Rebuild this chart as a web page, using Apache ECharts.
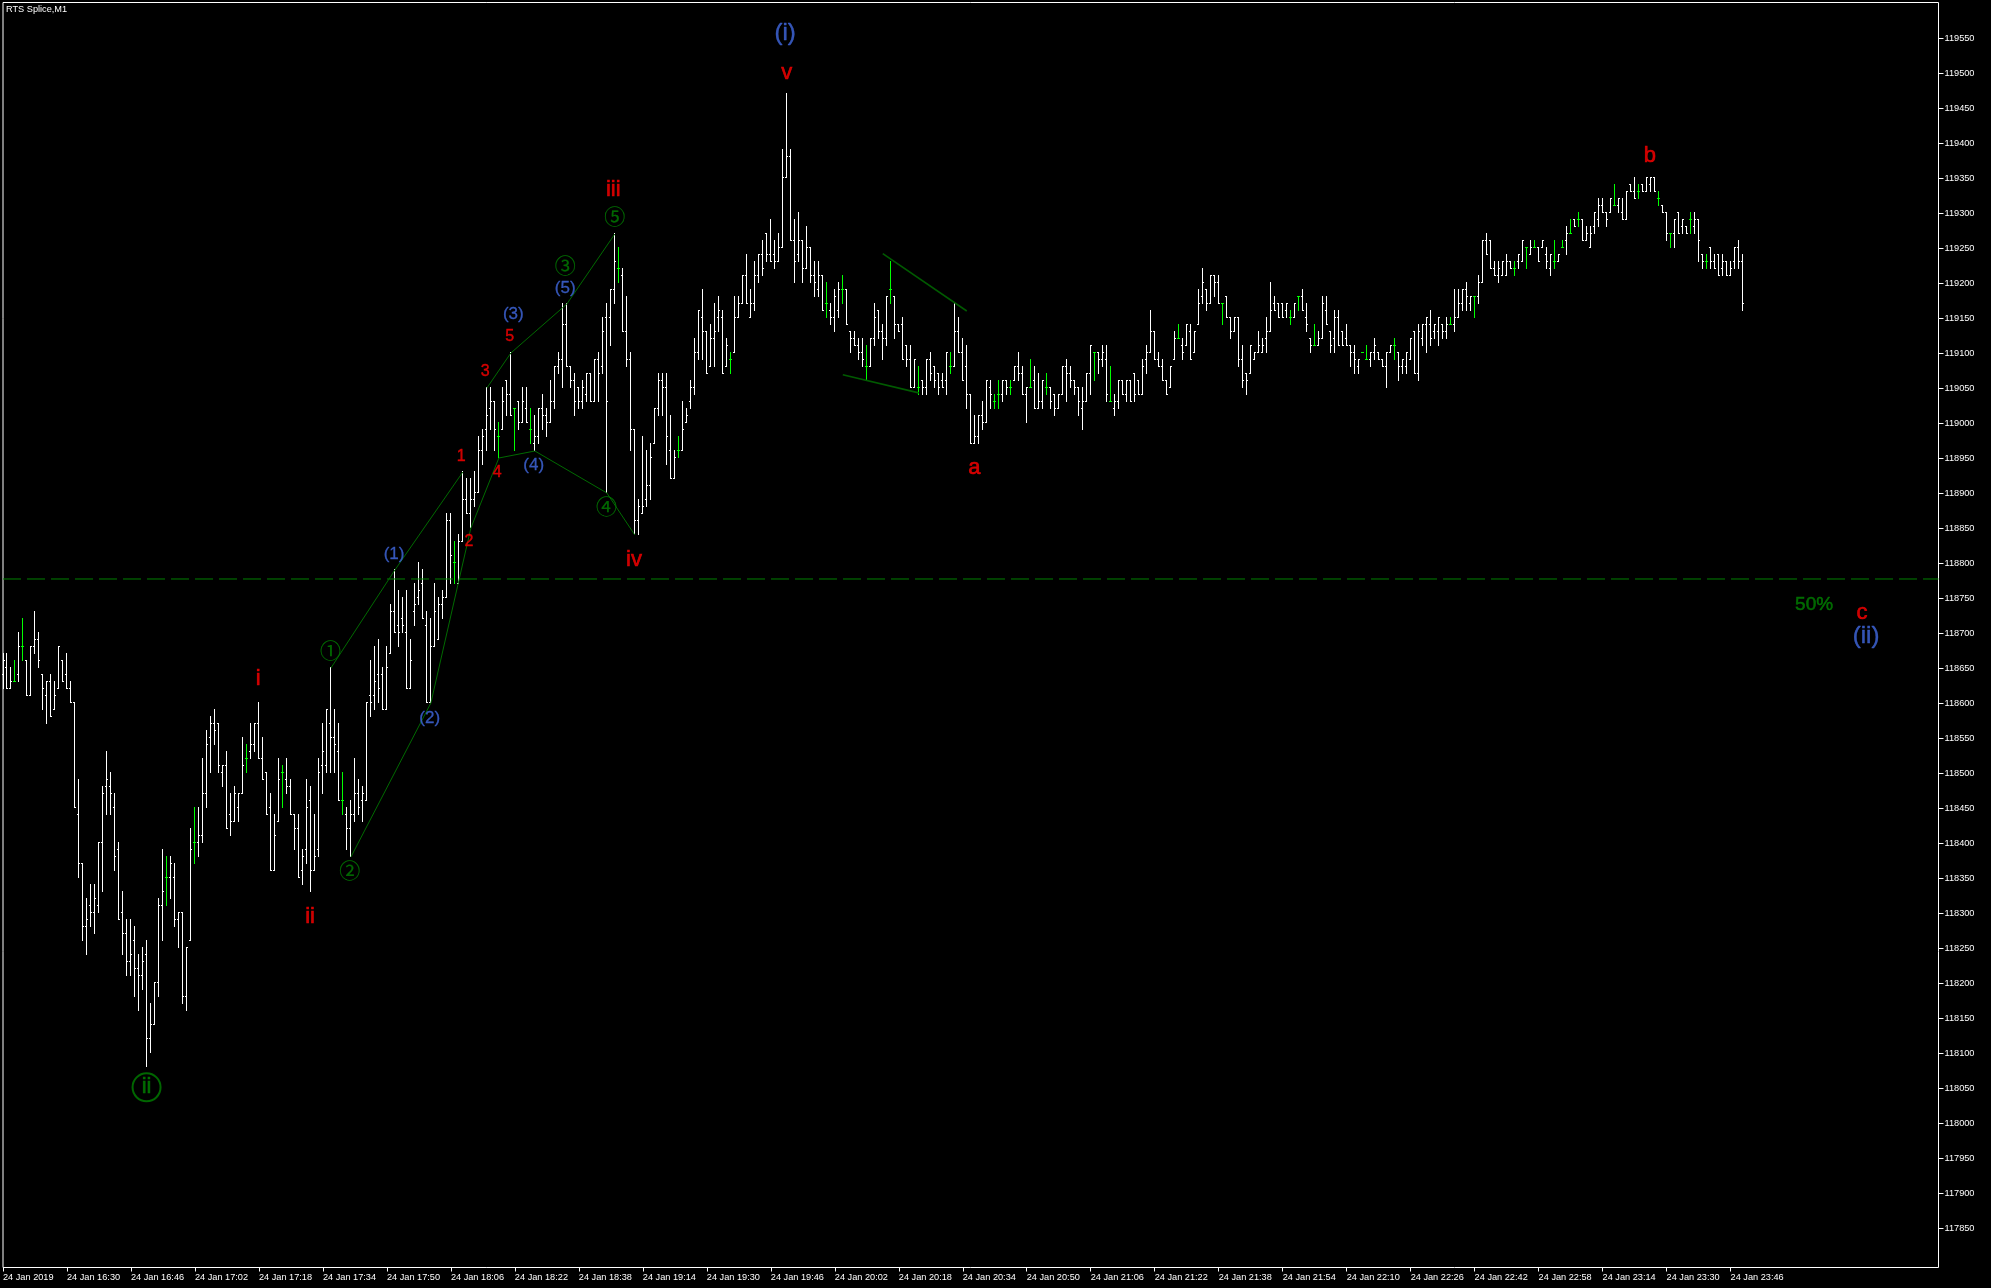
<!DOCTYPE html>
<html><head><meta charset="utf-8"><title>RTS Splice,M1</title>
<style>html,body{margin:0;padding:0;background:#000}#c{width:1991px;height:1288px}</style>
<script src="https://cdn.jsdelivr.net/npm/echarts@6/dist/echarts.min.js"></script></head>
<body><div id="c"></div>
<script>
const chartTitle = "RTS Splice,M1";
const timeLabels = ["24 Jan 2019","24 Jan 16:30","24 Jan 16:46","24 Jan 17:02","24 Jan 17:18","24 Jan 17:34","24 Jan 17:50","24 Jan 18:06","24 Jan 18:22","24 Jan 18:38","24 Jan 19:14","24 Jan 19:30","24 Jan 19:46","24 Jan 20:02","24 Jan 20:18","24 Jan 20:34","24 Jan 20:50","24 Jan 21:06","24 Jan 21:22","24 Jan 21:38","24 Jan 21:54","24 Jan 22:10","24 Jan 22:26","24 Jan 22:42","24 Jan 22:58","24 Jan 23:14","24 Jan 23:30","24 Jan 23:46"];
const timeTicks = [0,16,32,48,64,80,96,112,128,144,160,176,192,208,224,240,256,272,288,304,320,336,352,368,384,400,416,432];
const priceTicks = [119550,119500,119450,119400,119350,119300,119250,119200,119150,119100,119050,119000,118950,118900,118850,118800,118750,118700,118650,118600,118550,118500,118450,118400,118350,118300,118250,118200,118150,118100,118050,118000,117950,117900,117850];

const opens = [118640,118650,118620,118630,118640,118680,118660,118610,118680,118690,118640,118610,118630,118590,118620,118660,118640,118620,118600,118440,
118370,118280,118310,118300,118310,118400,118480,118480,118450,118390,118300,118270,118230,118260,118220,118210,118240,118120,118140,118200,
118310,118350,118350,118350,118290,118300,118180,118260,118400,118400,118410,118470,118550,118570,118570,118500,118510,118440,118430,118450,
118470,118520,118530,118540,118570,118520,118500,118450,118360,118430,118500,118490,118480,118440,118420,118360,118390,118460,118360,118390,
118510,118510,118570,118550,118530,118460,118440,118420,118440,118470,118460,118460,118610,118610,118640,118640,118590,118670,118730,118710,
118720,118700,118620,118730,118750,118770,118710,118600,118680,118690,118740,118750,118860,118800,118770,118830,118890,118870,118890,118900,
118960,118990,119020,119030,118980,118990,119060,119040,119020,119030,119000,119020,118990,118970,118980,119020,119010,119000,119030,119080,
119090,119140,119080,119060,119050,119030,119040,119070,119030,119090,119080,119150,119150,119190,119220,119210,119130,119090,118990,118860,
118870,118890,118910,118970,119020,119060,119050,118960,118920,118960,118960,119000,119030,119050,119100,119150,119130,119080,119120,119150,
119150,119080,119090,119100,119150,119170,119210,119150,119170,119210,119240,119270,119240,119240,119230,119250,119350,119380,119260,119240,
119260,119220,119250,119210,119190,119210,119170,119160,119150,119160,119190,119190,119130,119120,119110,119100,119080,119080,119120,119160,
119130,119120,119190,119180,119140,119140,119110,119090,119050,119050,119060,119050,119090,119080,119070,119060,119060,119080,119080,119130,
119100,119080,119040,118970,118980,119010,119000,119050,119030,119040,119040,119060,119050,119060,119080,119070,119040,119050,119060,119020,
119030,119050,119050,119040,119020,119040,119080,119070,119060,119050,119020,119030,119070,119100,119100,119090,119090,119030,119020,119030,
119060,119040,119060,119070,119060,119040,119090,119100,119130,119090,119080,119060,119050,119090,119120,119110,119110,119130,119100,119140,
119180,119190,119170,119210,119200,119170,119180,119150,119130,119150,119090,119070,119070,119090,119100,119100,119120,119130,119170,119170,
119170,119160,119150,119150,119180,119180,119150,119120,119110,119110,119120,119160,119130,119120,119150,119130,119120,119110,119100,119080,
119100,119090,119090,119100,119100,119090,119080,119100,119110,119100,119080,119080,119090,119130,119070,119120,119140,119140,119130,119130,
119140,119130,119140,119140,119150,119170,119190,119170,119180,119180,119200,119260,119260,119220,119210,119210,119210,119230,119220,119230,
119230,119250,119240,119250,119250,119250,119240,119220,119230,119230,119250,119260,119270,119290,119290,119290,119260,119250,119280,119290,
119310,119300,119300,119310,119310,119300,119290,119340,119330,119330,119340,119330,119340,119350,119320,119310,119300,119270,119270,119300,
119280,119280,119290,119280,119290,119240,119230,119250,119230,119240,119220,119230,119210,119230,119250,119230];
const highs = [118670,118670,118650,118660,118700,118720,118660,118680,118730,118700,118640,118630,118640,118630,118680,118660,118670,118630,118600,118490,
118370,118320,118340,118340,118400,118480,118530,118500,118470,118400,118330,118290,118290,118280,118240,118250,118260,118170,118200,118320,
118390,118380,118380,118370,118300,118300,118250,118420,118450,118450,118520,118560,118580,118590,118570,118510,118530,118470,118480,118470,
118550,118540,118570,118570,118600,118550,118500,118470,118440,118520,118510,118520,118490,118440,118440,118390,118490,118480,118440,118520,
118570,118590,118650,118590,118570,118500,118450,118460,118520,118490,118480,118600,118660,118680,118690,118650,118680,118740,118790,118760,
118750,118760,118690,118770,118800,118790,118730,118720,118770,118750,118760,118870,118870,118830,118840,118930,118920,118920,118930,118980,
118990,119050,119050,119030,119000,119050,119060,119100,119020,119030,119050,119050,119020,119010,119020,119040,119020,119060,119080,119100,
119170,119170,119080,119070,119050,119060,119070,119070,119090,119100,119150,119170,119190,119270,119250,119220,119180,119100,118990,118890,
118980,118960,118970,119020,119070,119070,119070,119010,118960,118980,119030,119020,119060,119120,119160,119190,119130,119140,119170,119180,
119160,119120,119100,119180,119180,119210,119240,119190,119230,119240,119260,119270,119290,119260,119270,119390,119470,119390,119290,119300,
119260,119280,119250,119230,119230,119210,119200,119170,119190,119200,119210,119190,119130,119130,119120,119120,119110,119120,119170,119160,
119140,119180,119230,119180,119140,119150,119110,119110,119090,119080,119060,119090,119100,119080,119070,119070,119100,119100,119170,119150,
119120,119110,119040,119010,119010,119030,119060,119060,119040,119060,119060,119060,119060,119080,119100,119080,119050,119090,119080,119070,
119060,119070,119050,119040,119040,119080,119090,119080,119060,119050,119050,119070,119110,119100,119100,119110,119110,119080,119040,119060,
119060,119060,119060,119070,119060,119090,119110,119160,119130,119100,119090,119060,119080,119130,119140,119120,119140,119140,119130,119190,
119220,119190,119210,119210,119210,119170,119180,119150,119150,119150,119110,119070,119110,119100,119130,119120,119150,119200,119180,119170,
119170,119170,119160,119170,119180,119190,119170,119120,119140,119130,119180,119180,119130,119160,119160,119130,119140,119110,119110,119090,
119100,119110,119100,119120,119100,119090,119100,119110,119120,119100,119090,119100,119120,119130,119140,119140,119150,119160,119140,119150,
119140,119150,119150,119190,119190,119190,119200,119180,119180,119210,119260,119270,119260,119230,119230,119230,119240,119230,119230,119240,
119260,119250,119260,119260,119250,119260,119250,119240,119260,119240,119260,119280,119290,119290,119300,119290,119280,119280,119300,119320,
119320,119300,119320,119340,119320,119320,119330,119340,119350,119340,119340,119350,119350,119350,119330,119310,119300,119270,119290,119300,
119290,119280,119300,119300,119290,119240,119240,119250,119240,119240,119240,119230,119230,119250,119260,119240];
const lows = [118620,118620,118620,118630,118630,118660,118610,118610,118670,118650,118590,118570,118580,118590,118620,118630,118620,118600,118450,118350,
118260,118240,118280,118270,118300,118330,118440,118440,118360,118290,118240,118210,118210,118180,118160,118190,118080,118100,118140,118180,
118260,118310,118320,118280,118250,118170,118160,118260,118370,118380,118400,118450,118500,118540,118500,118480,118420,118410,118430,118430,
118470,118500,118520,118530,118520,118490,118440,118360,118360,118430,118450,118470,118440,118390,118350,118340,118370,118330,118360,118380,
118470,118500,118500,118500,118460,118440,118390,118380,118430,118440,118430,118460,118580,118590,118600,118590,118590,118670,118700,118680,
118700,118620,118620,118710,118740,118720,118600,118600,118680,118690,118720,118750,118770,118770,118770,118830,118870,118850,118880,118900,
118940,118960,118990,118960,118950,118990,119010,119010,118960,118990,119000,119000,118970,118960,118970,118990,118980,119000,119020,119070,
119050,119080,119050,119010,119020,119020,119030,119030,119030,119030,119070,118900,119110,119170,119200,119130,119080,118960,118840,118840,
118870,118880,118890,118970,119010,119010,118940,118920,118920,118950,118960,119000,119020,119040,119090,119090,119070,119080,119080,119130,
119070,119080,119070,119100,119150,119170,119170,119150,119160,119200,119210,119230,119230,119220,119230,119250,119350,119260,119200,119230,
119200,119220,119200,119180,119180,119160,119150,119140,119130,119150,119170,119140,119100,119110,119090,119080,119060,119080,119110,119120,
119090,119110,119170,119120,119130,119090,119080,119050,119050,119040,119040,119040,119060,119050,119040,119050,119040,119070,119080,119100,
119060,119020,118970,118970,118970,118990,119000,119020,119020,119020,119030,119040,119040,119060,119060,119040,119000,119050,119020,119020,
119020,119040,119020,119010,119020,119040,119030,119050,119040,119010,118990,119030,119040,119060,119070,119080,119030,119030,119010,119020,
119040,119030,119030,119030,119040,119040,119070,119100,119090,119080,119060,119040,119050,119090,119120,119090,119110,119090,119100,119140,
119170,119160,119170,119180,119170,119140,119150,119120,119130,119080,119050,119040,119070,119090,119100,119100,119100,119130,119160,119150,
119150,119150,119140,119150,119160,119160,119130,119100,119110,119110,119120,119140,119100,119100,119110,119110,119110,119080,119070,119070,
119100,119090,119080,119090,119090,119080,119050,119100,119090,119060,119070,119070,119090,119070,119060,119110,119100,119110,119120,119110,
119120,119120,119140,119130,119150,119160,119160,119160,119150,119170,119200,119240,119220,119210,119200,119210,119210,119220,119210,119220,
119230,119220,119240,119250,119230,119250,119220,119210,119220,119230,119250,119240,119270,119280,119280,119260,119260,119250,119270,119280,
119300,119280,119300,119310,119300,119290,119290,119330,119320,119320,119330,119330,119330,119330,119310,119300,119260,119250,119250,119270,
119270,119270,119270,119270,119230,119220,119220,119220,119220,119210,119210,119210,119210,119220,119220,119160];
const closes = [118660,118620,118630,118630,118680,118680,118610,118680,118690,118660,118620,118630,118580,118610,118680,118630,118620,118600,118450,118370,
118280,118290,118300,118320,118400,118470,118490,118470,118380,118290,118270,118230,118240,118220,118210,118230,118120,118140,118200,118310,
118330,118350,118370,118290,118300,118180,118250,118390,118400,118410,118470,118540,118570,118560,118510,118510,118420,118430,118470,118470,
118510,118520,118540,118570,118520,118490,118440,118360,118410,118490,118500,118480,118440,118420,118350,118380,118450,118360,118380,118500,
118530,118590,118550,118540,118460,118460,118420,118440,118470,118450,118470,118600,118600,118630,118620,118590,118650,118730,118700,118700,
118710,118620,118660,118740,118760,118720,118600,118680,118730,118740,118750,118860,118810,118800,118830,118890,118870,118890,118900,118960,
118980,119010,119030,118990,118980,119030,119040,119010,119020,119000,119030,119000,118990,118980,119020,119010,119000,119030,119080,119090,
119140,119080,119060,119030,119030,119050,119070,119030,119090,119070,119130,119030,119190,119230,119220,119130,119090,118990,118860,118880,
118880,118910,118950,119020,119060,119050,118980,118920,118950,118960,118990,119010,119050,119100,119160,119130,119070,119120,119130,119160,
119070,119110,119090,119150,119170,119210,119170,119170,119210,119240,119220,119240,119230,119230,119250,119350,119380,119260,119230,119260,
119220,119250,119210,119200,119210,119160,119170,119150,119180,119190,119190,119140,119120,119110,119100,119090,119080,119120,119150,119130,
119120,119180,119190,119140,119130,119090,119090,119050,119090,119050,119050,119090,119070,119060,119050,119050,119100,119080,119130,119100,
119060,119040,118970,118980,119010,119000,119060,119040,119030,119040,119060,119050,119050,119080,119070,119040,119050,119050,119020,119030,
119060,119050,119030,119020,119040,119080,119070,119060,119050,119030,119030,119070,119110,119100,119090,119100,119040,119030,119030,119060,
119040,119060,119030,119040,119040,119080,119100,119130,119090,119080,119060,119040,119080,119120,119120,119100,119140,119090,119130,119170,
119200,119170,119210,119200,119170,119170,119150,119130,119150,119090,119060,119060,119110,119100,119110,119110,119130,119160,119160,119150,
119150,119170,119150,119170,119180,119160,119140,119110,119110,119120,119170,119140,119110,119150,119110,119110,119110,119100,119090,119090,
119100,119090,119100,119110,119090,119080,119100,119110,119110,119080,119090,119100,119120,119070,119130,119140,119150,119120,119140,119150,
119130,119140,119140,119150,119170,119190,119180,119180,119180,119200,119260,119240,119220,119210,119220,119230,119230,119220,119220,119240,
119260,119250,119250,119250,119230,119260,119230,119240,119230,119240,119250,119270,119270,119280,119290,119260,119270,119270,119300,119310,
119300,119290,119320,119310,119320,119290,119330,119330,119320,119330,119330,119350,119350,119330,119320,119300,119270,119270,119290,119270,
119290,119270,119290,119290,119260,119230,119230,119230,119220,119210,119230,119210,119220,119250,119230,119170];

const dashedLevel = 118777.14;
const wavePathA = [[82,118650],[98,118790],[115,118930]];
const wavePathB = [[121,119050],[127,119100],[141,119170],[153,119270]];
const wavePathC = [[87,118380],[107,118600],[117,118850],[124,118950],[133,118960],[151,118900],[158,118840]];
const wedgeUpper = [[220,119242],[241,119160]];
const wedgeLower = [[210,119069],[229,119043]];

const redLarge = [["i",63.8,118635],["ii",76.8,118295],["iii",152.6,119333],["iv",157.8,118805],["v",196,119500],["a",242.9,118936],["b",411.8,119382],["c",464.9,118728]];
const redSmall = [["1",114.6,118952],["2",116.5,118831],["3",120.6,119074],["4",123.6,118929],["5",126.7,119123]];
const blueSmall = [["(1)",97.8,118813],["(2)",106.7,118578],["(3)",127.6,119155],["(4)",132.7,118939],["(5)",140.6,119192]];
const blueLarge = [["(i)",195.6,119556],["(ii)",465.9,118695]];
const circled = [["①",81.9,118675],["②",86.7,118361],["③",140.6,119225],["④",150.9,118882],["⑤",153,119295]];
const circledBig = [["ii",35.9,118051]];
const percentLabel = [["50%",452.9,118741]];

const maxIndex = 484;
const bars = opens.map((o,i)=>[i,o,highs[i],lows[i],closes[i]]);

function renderBar(params, api){
  const k = api.value(0), o = api.value(1), h = api.value(2), l = api.value(3), c = api.value(4);
  const xc = Math.floor(api.coord([k,h])[0]);
  const yH = Math.floor(api.coord([k,h])[1]), yL = Math.floor(api.coord([k,l])[1]);
  const yO = Math.floor(api.coord([k,o])[1]), yC = Math.floor(api.coord([k,c])[1]);
  const fill = o === c ? '#00ff00' : '#ffffff';
  const r = (x,y,w,hh)=>({type:'rect',shape:{x,y,width:w,height:hh},style:{fill}});
  return {type:'group',children:[r(xc,yH,1,yL-yH+1),r(xc-1,yO,1,1),r(xc+1,yC,1,1)]};
}
const lineSeries = (data,color,width,dash)=>({type:'line',data,symbol:'none',silent:true,z:3,
  lineStyle:{color,width,type:dash||'solid'},animation:false});
const textSeries = (rows,color,size,family,thick)=>({type:'scatter',symbol:'circle',symbolSize:1,silent:true,z:5,animation:false,
  itemStyle:{color:'rgba(0,0,0,0)'},
  data:rows.map(r=>({value:[r[1],r[2]],name:r[0]})),
  label:{show:true,position:'inside',formatter:p=>p.name,color,fontSize:size,fontFamily:family||'Liberation Sans',
    textBorderColor:color,textBorderWidth:thick===undefined?0.6:thick},
  labelLayout:{hideOverlap:false}});

const chart = echarts.init(document.getElementById('c'),null,{renderer:'canvas'});
chart.setOption({
  animation:false,backgroundColor:'#000',
  title:{text:chartTitle,left:6,top:5,padding:0,textStyle:{color:'#fff',fontSize:9.2,fontWeight:'normal',fontFamily:'Liberation Sans'}},
  grid:{left:2.5,right:52.5,top:2.5,bottom:20.5,show:true,borderColor:'#fff',borderWidth:1,backgroundColor:'#000'},
  xAxis:{type:'value',min:0,max:maxIndex,splitLine:{show:false},
    axisLine:{show:false,onZero:false},
    axisTick:{show:true,length:4,lineStyle:{color:'#fff'},customValues:timeTicks},
    axisLabel:{show:true,customValues:timeTicks,align:'left',margin:5,color:'#fff',fontSize:9.2,fontFamily:'Liberation Sans',
      formatter:v=>timeLabels[timeTicks.indexOf(v)]}},
  yAxis:{type:'value',position:'right',min:117793.57,max:119600.71,scale:true,splitLine:{show:false},
    axisLine:{show:false,onZero:false},
    axisTick:{show:true,length:5,lineStyle:{color:'#fff'},customValues:priceTicks},
    axisLabel:{show:true,customValues:priceTicks,margin:6,color:'#fff',fontSize:9.2,fontFamily:'Liberation Sans',formatter:v=>String(v)}},
  series:[
    {type:'custom',renderItem:renderBar,data:bars,encode:{x:0,y:[1,2,3,4]},silent:true,z:2,animation:false,clip:false},
    lineSeries([[0,dashedLevel],[maxIndex,dashedLevel]],'#008000',1,[18,6]),
    lineSeries(wavePathA,'#006a00',1),
    lineSeries(wavePathB,'#006a00',1),
    lineSeries(wavePathC,'#006a00',1),
    lineSeries(wedgeUpper,'#005a00',1.6),
    lineSeries(wedgeLower,'#005a00',1.6),
    textSeries(redLarge,'#ff0000',22),
    textSeries(redSmall,'#ff0000',16,undefined,0.4),
    textSeries(blueSmall,'#4169e1',17,undefined,0.3),
    textSeries(blueLarge,'#4169e1',24,undefined,0.4),
    textSeries(circled,'#008000',21,'Noto Sans CJK SC',0.2),
    {type:'scatter',symbol:'circle',symbolSize:28,silent:true,z:5,animation:false,
     itemStyle:{color:'rgba(0,0,0,0)',borderColor:'#008000',borderWidth:2},
     data:circledBig.map(r=>({value:[r[1],r[2]],name:r[0]})),
     label:{show:true,position:'inside',formatter:p=>p.name,color:'#008000',fontSize:22,fontFamily:'Liberation Sans',textBorderColor:'#008000',textBorderWidth:0.6}},
    textSeries(percentLabel,'#008000',19,undefined,0.5)
  ]
});
</script></body></html>
